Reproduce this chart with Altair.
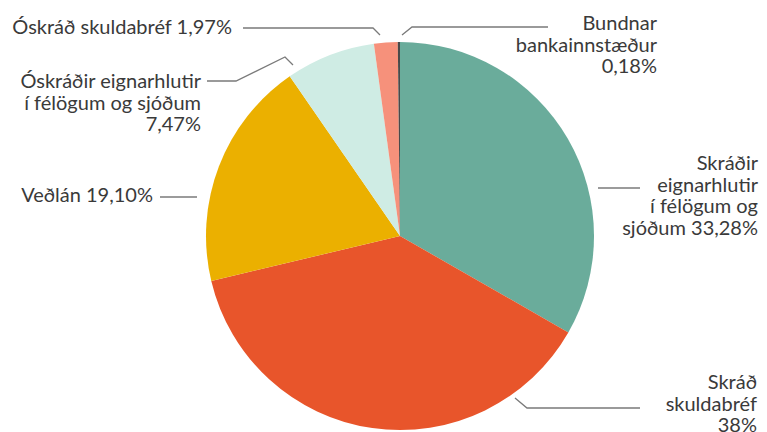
import altair as alt
import pandas as pd

# ---- data ----
categories = ["Skráðir eignarhlutir í félögum og sjóðum", "Skráð skuldabréf", "Veðlán",
              "Óskráðir eignarhlutir í félögum og sjóðum", "Óskráð skuldabréf", "Bundnar bankainnstæður"]
values = [33.28, 38.0, 19.10, 7.47, 1.97, 0.18]
colors = ["#6aac9b", "#e8552b", "#ebb000", "#cfece4", "#f6917b", "#4a4a4a"]
label_texts = ["Skráðir\neignarhlutir\ní félögum og\nsjóðum 33,28%",
               "Skráð\nskuldabréf\n38%",
               "Veðlán 19,10%",
               "Óskráðir eignarhlutir\ní félögum og sjóðum\n7,47%",
               "Óskráð skuldabréf 1,97%",
               "Bundnar\nbankainnstæður\n0,18%"]

# ---- layout (image pixel coordinates) ----
W, H = 751, 424
CX, CY, R = 400, 236, 194
label_x = [758, 757, 153, 201, 232, 657]
label_y = [170, 389, 202, 88, 34, 30]   # baseline of first line
leaders = [
    [(598, 188), (640, 188)],
    [(515, 398), (527, 408), (640, 408)],
    [(160, 197), (197, 197)],
    [(207, 81), (236, 81), (285, 57), (293, 65)],
    [(243, 28), (373, 28), (380, 35)],
    [(402, 35), (412, 27), (548, 27)],
]

pie_df = pd.DataFrame({"cat": categories, "val": values, "order": list(range(len(values)))})
lab_df = pd.DataFrame({"text": label_texts, "x": label_x, "y": label_y})
lead_rows = []
for i, pts in enumerate(leaders):
    for j, (px, py) in enumerate(pts):
        lead_rows.append({"id": i, "k": j, "x": px, "y": py})
lead_df = pd.DataFrame(lead_rows)

xs = alt.Scale(domain=[8, 8 + W], range=[0, W])
ys = alt.Scale(domain=[8, 8 + H], range=[0, H])

pie = alt.Chart(pie_df).mark_arc(outerRadius=R).encode(
    theta=alt.Theta("val:Q", stack=True),
    order=alt.Order("order:Q"),
    color=alt.Color("cat:N", scale=alt.Scale(domain=categories, range=colors), legend=None),
    x=alt.value(CX - 8), y=alt.value(CY - 8),
)

lines = alt.Chart(lead_df).mark_line(color="#7a7a7a", strokeWidth=1.3).encode(
    x=alt.X("x:Q", scale=xs, axis=None),
    y=alt.Y("y:Q", scale=ys, axis=None),
    detail="id:N",
    order="k:Q",
)

labels = alt.Chart(lab_df).mark_text(
    align="right", baseline="alphabetic", font="Lato", fontSize=20, lineHeight=21.5,
    lineBreak="\n", color="#3a3a3a"
).encode(
    x=alt.X("x:Q", scale=xs, axis=None),
    y=alt.Y("y:Q", scale=ys, axis=None),
    text="text:N",
)

chart = alt.layer(pie, lines, labels).properties(
    width=W, height=H, padding=0, autosize=alt.AutoSizeParams(type="none")
).configure_view(stroke=None)

chart.save("out.html", embed_options={"renderer": "svg", "actions": False})
